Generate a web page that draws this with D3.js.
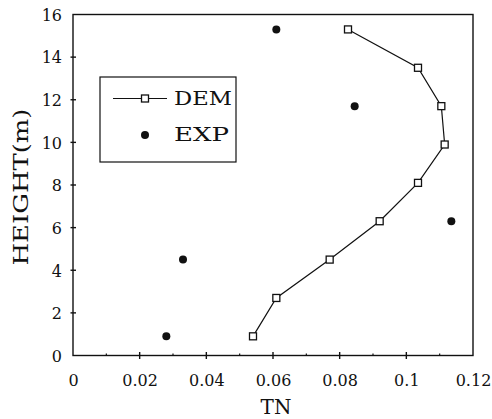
<!DOCTYPE html>
<html>
<head>
<meta charset="utf-8">
<script src="https://cdn.jsdelivr.net/npm/d3@7"></script>
<style>
  body { margin: 0; background: #fff; }
  svg { display: block; }
</style>
</head>
<body>
<script>
/* Data
***********************************************************************/
var heights = [0.9, 2.7, 4.5, 6.3, 8.1, 9.9, 11.7, 13.5, 15.3];
var demTN = [0.054, 0.061, 0.077, 0.092, 0.1035, 0.1115, 0.1105, 0.1035, 0.0825];

var expTN = [0.028, 0.033, 0.1135, 0.0845, 0.061];
var expHeights = [0.9, 4.5, 6.3, 11.7, 15.3];

var xTicks = [0, 0.02, 0.04, 0.06, 0.08, 0.1, 0.12];
var xMinor = [0.01, 0.03, 0.05, 0.07, 0.09, 0.11];
var yTicks = [0, 2, 4, 6, 8, 10, 12, 14, 16];
var seriesNames = ["DEM", "EXP"];

/* Setup
***********************************************************************/
var svgW = 492;
var svgH = 419;
var pLeft = 73, pRight = 473, pTop = 14.5, pBottom = 355.5;
var fontfam = "'DejaVu Serif', 'Liberation Serif', serif";
var ink = "#111";

var svg = d3.select("body").append("svg")
	.attr("width", svgW)
	.attr("height", svgH);

var xScale = d3.scaleLinear().domain([0, 0.12]).range([pLeft, pRight]);
var yScale = d3.scaleLinear().domain([0, 16]).range([pBottom, pTop]);

// stretch a text horizontally to a given width (the scanned font is wide)
function stretchTo(sel, w) {
	var n = sel.node();
	var len = n.getComputedTextLength();
	var s = w / len;
	var x = +sel.attr("x") || 0;
	sel.attr("transform", "translate(" + x + ",0) scale(" + s + ",1) translate(" + (-x) + ",0)");
}

// frame
svg.append("rect")
	.attr("x", pLeft).attr("y", pTop)
	.attr("width", pRight - pLeft).attr("height", pBottom - pTop)
	.attr("fill", "none")
	.attr("stroke", ink)
	.attr("stroke-width", 1.4);

/* Axes
***********************************************************************/
var xAxis = svg.append("g")
	.attr("transform", "translate(0," + pBottom + ")")
	.call(d3.axisBottom(xScale).tickValues(xTicks).tickSize(0)
		.tickFormat(function(d) { return String(+d.toFixed(2)); }));
xAxis.select(".domain").remove();
xAxis.selectAll("text")
	.attr("y", 30)
	.attr("dy", 0)
	.attr("font-family", fontfam)
	.attr("font-size", 16)
	.attr("fill", ink);

var yAxis = svg.append("g")
	.attr("transform", "translate(" + pLeft + ",0)")
	.call(d3.axisLeft(yScale).tickValues(yTicks).tickSize(0));
yAxis.select(".domain").remove();
yAxis.selectAll("text")
	.attr("x", -11)
	.attr("dy", "0.36em")
	.attr("font-family", fontfam)
	.attr("font-size", 16)
	.attr("fill", ink);

// tick marks crossing the axes
svg.append("g").selectAll("line")
	.data(xTicks.slice(1, -1))
	.join("line")
	.attr("x1", function(d) { return xScale(d); })
	.attr("x2", function(d) { return xScale(d); })
	.attr("y1", pBottom - 3.5).attr("y2", pBottom + 3.5)
	.attr("stroke", ink).attr("stroke-width", 1.4);

svg.append("g").selectAll("line")
	.data(xMinor)
	.join("line")
	.attr("x1", function(d) { return xScale(d); })
	.attr("x2", function(d) { return xScale(d); })
	.attr("y1", pBottom - 2).attr("y2", pBottom)
	.attr("stroke", ink).attr("stroke-width", 1.2);

svg.append("g").selectAll("line")
	.data(yTicks.slice(1, -1))
	.join("line")
	.attr("x1", pLeft - 2.5).attr("x2", pLeft + 3)
	.attr("y1", function(d) { return yScale(d); })
	.attr("y2", function(d) { return yScale(d); })
	.attr("stroke", ink).attr("stroke-width", 1.4);

// axis titles
svg.append("text")
	.text("TN")
	.attr("x", (pLeft + pRight) / 2 + 3)
	.attr("y", 414)
	.attr("text-anchor", "middle")
	.attr("font-family", fontfam)
	.attr("font-size", 20)
	.attr("fill", ink);

var yTitle = svg.append("g")
	.attr("transform", "translate(28,187) rotate(-90)")
	.append("text")
	.text("HEIGHT(m)")
	.attr("x", 0)
	.attr("text-anchor", "middle")
	.attr("font-family", fontfam)
	.attr("font-size", 20)
	.attr("fill", ink);
stretchTo(yTitle, 157);

/* Series
***********************************************************************/
var demData = heights.map(function(h, i) { return {x: demTN[i], y: h}; });
var expData = expHeights.map(function(h, i) { return {x: expTN[i], y: h}; });

var line = d3.line()
	.x(function(d) { return xScale(d.x); })
	.y(function(d) { return yScale(d.y); });

svg.append("path")
	.attr("d", line(demData))
	.attr("fill", "none")
	.attr("stroke", ink)
	.attr("stroke-width", 1.2);

var sq = 7;
svg.append("g").selectAll("rect")
	.data(demData)
	.join("rect")
	.attr("x", function(d) { return xScale(d.x) - sq / 2; })
	.attr("y", function(d) { return yScale(d.y) - sq / 2; })
	.attr("width", sq).attr("height", sq)
	.attr("fill", "#fff")
	.attr("stroke", ink)
	.attr("stroke-width", 1.3);

svg.append("g").selectAll("circle")
	.data(expData)
	.join("circle")
	.attr("cx", function(d) { return xScale(d.x); })
	.attr("cy", function(d) { return yScale(d.y); })
	.attr("r", 4)
	.attr("fill", ink);

/* Legend
***********************************************************************/
var lg = svg.append("g");
lg.append("rect")
	.attr("x", 100).attr("y", 77)
	.attr("width", 136).attr("height", 85)
	.attr("fill", "#fff")
	.attr("stroke", ink)
	.attr("stroke-width", 1.2);

lg.append("line")
	.attr("x1", 113).attr("x2", 167)
	.attr("y1", 98.5).attr("y2", 98.5)
	.attr("stroke", ink).attr("stroke-width", 1.2);
lg.append("rect")
	.attr("x", 145 - sq / 2).attr("y", 98.5 - sq / 2)
	.attr("width", sq).attr("height", sq)
	.attr("fill", "#fff").attr("stroke", ink).attr("stroke-width", 1.3);
lg.append("circle")
	.attr("cx", 145).attr("cy", 135)
	.attr("r", 4).attr("fill", ink);

lg.selectAll("text")
	.data(seriesNames)
	.join("text")
	.text(function(d) { return d; })
	.attr("x", 174)
	.attr("y", function(d, i) { return i === 0 ? 105 : 141.5; })
	.attr("font-family", fontfam)
	.attr("font-size", 18)
	.attr("fill", ink)
	.each(function(d, i) { stretchTo(d3.select(this), i === 0 ? 58 : 55); });
</script>
</body>
</html>
